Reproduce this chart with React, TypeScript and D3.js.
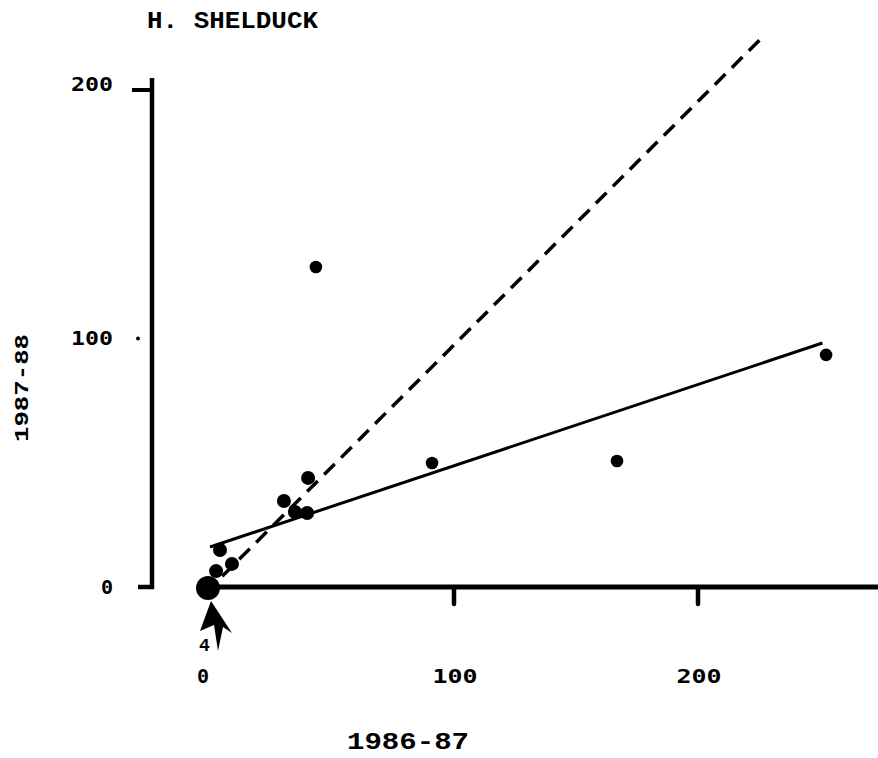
import React from "react";
import * as d3 from "d3";

// 1986-87 count (x) vs 1987-88 count (y)
const x8687 = [43.4, 252.5, 166.8, 91.0, 40.2, 30.3, 34.8, 39.8, 4.1, 9.0, 2.5];
const y8788 = [128.8, 93.4, 50.7, 49.9, 43.9, 34.6, 30.2, 29.8, 14.9, 9.3, 6.4];
// four sites sitting at the origin
const originCount = 4;
const xTicks = [0, 100, 200];
const yTicks = [0, 100, 200];
// fitted line and 1:1-ish dashed line
const fitLine = [16.1, 0.327]; // intercept, slope
const fitRange = [0, 251];
const dashLine = [-0.6, 0.98];
const dashRange = [5, 225.5];

const W = 878;
const H = 758;

const App = () => {
	const x = d3.scaleLinear().domain([0, 200]).range([210, 698]);
	const y = d3.scaleLinear().domain([0, 200]).range([587, 90]);

	const line = d3
		.line<number>()
		.x((d) => x(d))
		.y((d) => y(fitLine[0] + fitLine[1] * d));
	const dashed = d3
		.line<number>()
		.x((d) => x(d))
		.y((d) => y(dashLine[0] + dashLine[1] * d));

	const ox = x(0) - 2;
	const oy = y(0) + 1;
	const tickFont = "'DejaVu Sans Mono', monospace";
	const labelFont = "'Liberation Mono', 'Courier New', monospace";

	return (
		<svg width={W} height={H} style={{ position: "absolute", left: 0, top: 0, background: "#fff" }}>
			<text x={147} y={28} fontFamily={labelFont} fontWeight="bold" fontSize={23} textLength={171} lengthAdjust="spacingAndGlyphs">
				H. SHELDUCK
			</text>

			{/* y axis */}
			<line x1={152} x2={152} y1={78} y2={589} stroke="#000" strokeWidth={4.5} />
			<line x1={138} x2={154} y1={y(0)} y2={y(0)} stroke="#000" strokeWidth={4.5} />
			<line x1={132} x2={152} y1={y(200)} y2={y(200)} stroke="#000" strokeWidth={4} />
			<circle cx={138} cy={y(100)} r={2} fill="#000" />
			{yTicks.map((t) => (
				<text key={t} x={t === 0 ? 107 : 92} y={y(t) + (t === 200 ? -5 : 1)} fontFamily={tickFont} fontWeight="bold" fontSize={20} textAnchor="middle" dominantBaseline="middle" textLength={t === 0 ? undefined : 42} lengthAdjust="spacingAndGlyphs">
					{t}
				</text>
			))}
			<text transform={`translate(28,${388}) rotate(-90)`} fontFamily={labelFont} fontWeight="bold" fontSize={21} textAnchor="middle" textLength={108} lengthAdjust="spacingAndGlyphs">
				1987-88
			</text>

			{/* x axis */}
			<line x1={x(0)} x2={W} y1={y(0)} y2={y(0)} stroke="#000" strokeWidth={5} />
			{xTicks.slice(1).map((t) => (
				<line key={t} x1={x(t)} x2={x(t)} y1={y(0)} y2={y(0) + 17} stroke="#000" strokeWidth={4.5} strokeLinecap="round" />
			))}
			{xTicks.map((t) => (
				<text key={t} x={t === 0 ? 203 : x(t) + 1} y={677} fontFamily={tickFont} fontWeight="bold" fontSize={20} textAnchor="middle" dominantBaseline="middle" textLength={t === 0 ? undefined : 45} lengthAdjust="spacingAndGlyphs">
					{t}
				</text>
			))}
			<text x={408} y={749} fontFamily={labelFont} fontWeight="bold" fontSize={23} textAnchor="middle" textLength={122} lengthAdjust="spacingAndGlyphs">
				1986-87
			</text>

			{/* lines */}
			<path d={line(fitRange) ?? ""} stroke="#000" strokeWidth={3} fill="none" />
			<path d={dashed(dashRange) ?? ""} stroke="#000" strokeWidth={3.5} fill="none" strokeDasharray="15 9" />

			{/* points */}
			{x8687.map((v, i) => (
				<circle key={i} cx={x(v)} cy={y(y8788[i])} r={i < 4 ? 6.3 : 7} fill="#000" />
			))}
			<circle cx={ox} cy={oy} r={12} fill="#000" />

			{/* arrow marking the origin cluster */}
			<path
				d={`M${ox + 3},${oy + 13} L${ox - 8},${oy + 43} L${ox + 6},${oy + 37} L${ox + 10},${oy + 63} L${ox + 15},${oy + 39} L${ox + 24},${oy + 45} Z`}
				fill="#000"
			/>
			<text x={ox - 9} y={oy + 63} fontFamily={labelFont} fontWeight="bold" fontSize={18}>
				{originCount}
			</text>
		</svg>
	);
};

export default App;
